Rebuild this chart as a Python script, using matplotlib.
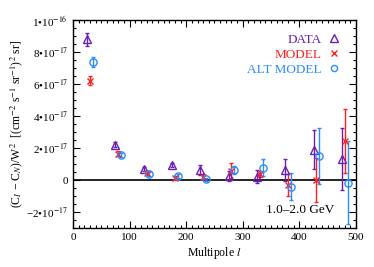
import matplotlib
matplotlib.use("Agg")
import matplotlib.pyplot as plt
import numpy as np
from matplotlib.ticker import FixedLocator, MultipleLocator
from matplotlib.lines import Line2D

plt.rcParams['font.family'] = ['Liberation Serif', 'DejaVu Serif']
plt.rcParams['mathtext.fontset'] = 'stix'

# Multipole bin centres
ell = [30, 80, 130, 180, 230, 280, 330, 380, 430, 480]

# values in units of 1e-17
data_y   = [8.8, 2.2, 0.67, 0.96, 0.62, 0.25, 0.20, 0.62, 1.90, 1.30]
data_err = [0.40, 0.15, 0.12, 0.12, 0.31, 0.30, 0.40, 0.70, 1.20, 1.95]
model_y   = [6.2, 1.65, 0.46, 0.15, 0.20, 0.58, 0.37, -0.31, 0.00, 2.45]
model_err = [0.28, 0.15, 0.12, 0.12, 0.15, 0.47, 0.20, 0.68, 1.35, 2.00]
alt_y   = [7.4, 1.55, 0.37, 0.25, 0.04, 0.62, 0.77, -0.42, 1.50, -0.17]
alt_err = [0.31, 0.12, 0.10, 0.10, 0.10, 0.25, 0.54, 0.83, 1.75, 2.60]

labels = ['DATA', 'MODEL', 'ALT MODEL']
colors = ['#6a1fb5', '#ff2020', '#2a8cff']
offsets = [-5, 0, 5]
energy_label = '1.0–2.0 GeV'

fig = plt.figure(figsize=(3.74, 2.67), dpi=100)
ax = fig.add_axes([0.195, 0.146, 0.757, 0.779])

scale = 1e-17
series = [(data_y, data_err, '^', 6.0), (model_y, model_err, 'x', 5.0), (alt_y, alt_err, 'o', 5.2)]
handles = []
for (yv, ev, mk, ms), col, off, lab in zip(series, colors, offsets, labels):
    x = np.array(ell) + off
    y = np.array(yv) * scale
    e = np.array(ev) * scale
    ax.errorbar(x, y, yerr=e, fmt=mk, color=col, mfc='none', mec=col, ms=ms,
                mew=1.0, elinewidth=1.0, capsize=1.5, capthick=1.0)
    handles.append(Line2D([], [], ls='none', marker=mk, mfc='none', mec=col,
                          ms=ms * 0.85, mew=1.0, label=lab))

ax.axhline(0, color='black', lw=1.2, zorder=0)

ax.set_xlim(0, 500)
ax.set_ylim(-3e-17, 1e-16)

yt = [-2e-17, 0, 2e-17, 4e-17, 6e-17, 8e-17, 1e-16]
ylab = ['−2•10$^{-17}$', '0', '2•10$^{-17}$', '4•10$^{-17}$', '6•10$^{-17}$', '8•10$^{-17}$', '1•10$^{-16}$']
ax.yaxis.set_major_locator(FixedLocator(yt))
ax.set_yticklabels(ylab)
ax.yaxis.set_minor_locator(MultipleLocator(5e-18))
ax.xaxis.set_major_locator(MultipleLocator(100))
ax.xaxis.set_minor_locator(MultipleLocator(10))

ax.tick_params(which='both', direction='in', top=True, right=True, labelsize=8, width=0.8)
ax.tick_params(which='major', length=5)
ax.tick_params(which='minor', length=2.5)
for s in ax.spines.values():
    s.set_linewidth(1.0)

ax.set_xlabel('Multipole $l$', fontsize=8.5, labelpad=2)
ax.set_ylabel(r'(C$_I$ − C$_N$)/W$^2$  [(cm$^{-2}$ s$^{-1}$ sr$^{-1}$)$^2$ sr]', fontsize=8.5, labelpad=1)

leg = ax.legend(handles=handles, loc='upper right', bbox_to_anchor=(0.935, 0.935),
                frameon=False, markerfirst=False, fontsize=9.5, handlelength=0.6,
                handletextpad=0.6, labelspacing=0.2, borderaxespad=0, borderpad=0)
for t, c in zip(leg.get_texts(), colors):
    t.set_color(c)
    t.set_ha('right')

ax.text(0.925, 0.085, energy_label, transform=ax.transAxes, ha='right', va='center', fontsize=9.5)

fig.savefig('out.png', dpi=100)
